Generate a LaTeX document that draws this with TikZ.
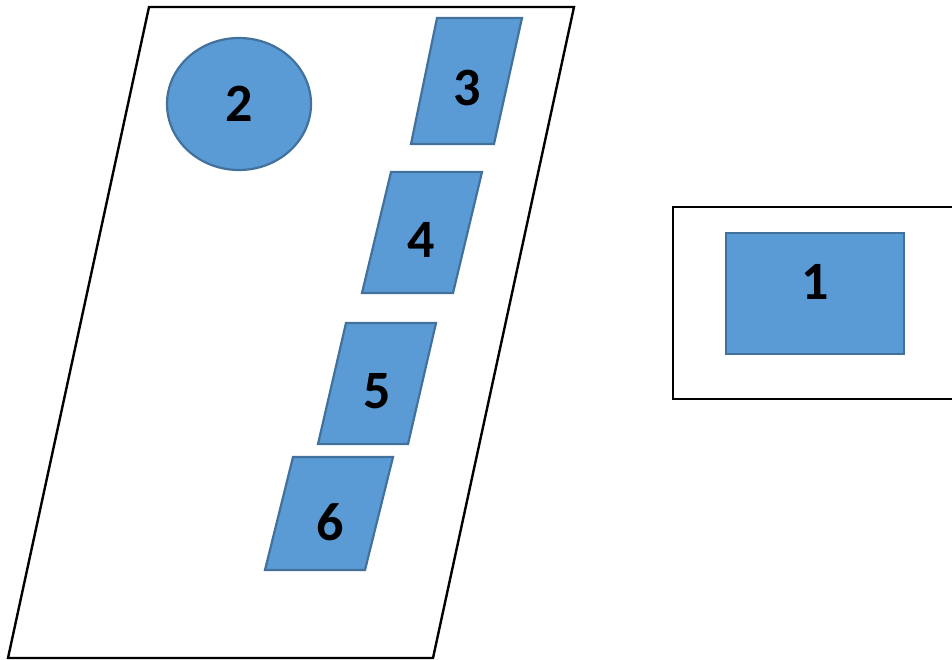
\documentclass[tikz,border=0pt]{standalone}
\usepackage{fontspec}
\setmainfont{Carlito}
\definecolor{partfill}{RGB}{91,155,213}
\definecolor{partline}{RGB}{65,113,156}
\begin{document}
\begin{tikzpicture}[x=1pt,y=-1pt,
  frame/.style={draw=black,line width=2.4pt,fill=white},
  part/.style={draw=partline,line width=2.2pt,fill=partfill},
  num/.style={font=\fontsize{54}{60}\selectfont\bfseries,text=black,inner sep=0pt}]
\useasboundingbox (0,0) rectangle (952,660);
\clip (0,0) rectangle (952,660);
% outer slanted frame
\draw[frame] (149,7) -- (574,7) -- (433,658) -- (8,658) -- cycle;
% right frame and its block
\draw[frame] (673,207) rectangle (970,399);
\draw[part] (726,233) rectangle (904,354);
\node[num] (n1) at (815,282) {1};
% ellipse
\draw[part] (239,104) ellipse [x radius=72,y radius=66];
\node[num] (n2) at (239,104) {2};
% slanted blocks
\draw[part] (437,18) -- (522,18) -- (494,144) -- (411,144) -- cycle;
\node[num] (n3) at (467,88) {3};
\draw[part] (391,172) -- (482,172) -- (453,293) -- (362,293) -- cycle;
\node[num] (n4) at (421,240) {4};
\draw[part] (346,323) -- (436,323) -- (408,444) -- (318,444) -- cycle;
\node[num] (n5) at (377,391) {5};
\draw[part] (293,457) -- (393,457) -- (365,570) -- (265,570) -- cycle;
\node[num] (n6) at (330,522) {6};
\end{tikzpicture}
\end{document}
